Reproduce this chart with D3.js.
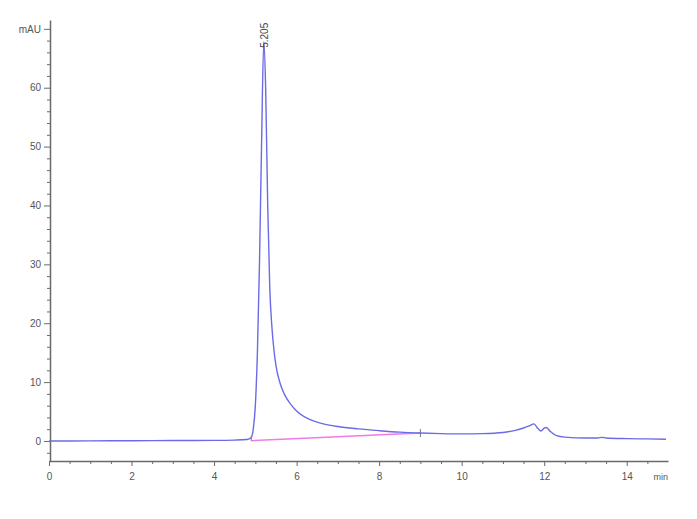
<!DOCTYPE html>
<html>
<head>
<meta charset="utf-8">
<script src="https://cdn.jsdelivr.net/npm/d3@7"></script>
<style>
  body { margin: 0; background: #fff; }
  svg text { font-family: "Liberation Sans", Arial, sans-serif; }
</style>
</head>
<body>
<div id="chart"></div>
<script>
// Chromatogram data: retention time (min) and signal (mAU)
var times = [0, 1, 2, 3, 4, 4.5, 4.8, 4.9, 4.95, 5.0, 5.05, 5.1, 5.15, 5.205, 5.25, 5.3, 5.35, 5.4, 5.45, 5.5,
  5.6, 5.7, 5.85, 6.0, 6.3, 6.6, 7.0, 7.5, 8.0, 8.5, 9.0, 9.5, 10.0, 10.5, 11.0, 11.3, 11.5, 11.65, 11.75,
  11.85, 11.92, 12.0, 12.05, 12.15, 12.3, 12.5, 13.0, 13.3, 13.4, 13.5, 14.0, 14.5, 14.95]
var signal = [0, 0.02, 0.05, 0.08, 0.1, 0.15, 0.25, 0.6, 2, 6, 15, 30, 50, 67.8, 60, 40, 26, 19.5, 15.5, 12.8,
  9.8, 8.0, 6.3, 5.1, 3.7, 3.0, 2.45, 2.05, 1.75, 1.5, 1.35, 1.25, 1.2, 1.25, 1.45, 1.8, 2.2, 2.6, 2.9,
  2.1, 1.7, 2.2, 2.3, 1.6, 0.9, 0.65, 0.5, 0.5, 0.62, 0.5, 0.4, 0.35, 0.3]

// Integration baseline of the main peak
var baseTimes = [4.9, 9.0]
var baseValues = [0.05, 1.35]

// Peak annotation
var peakTime = 5.205
var peakValue = 67.8
var peakLabel = "5.205"

// Tick values
var xMajor = [0, 2, 4, 6, 8, 10, 12, 14]
var yMajor = [0, 10, 20, 30, 40, 50, 60]
var xUnit = "min"
var yUnit = "mAU"

var width = 697
var height = 519

var svg = d3.select("#chart")
  .append("svg")
  .attr("width", width)
  .attr("height", height)

var x = d3.scaleLinear().domain([0, 15]).range([49, 668])
var y = d3.scaleLinear().domain([-3.4, 71.5]).range([461, 20])

var axisColor = "#6a6a6a"
var textColor = "#555"

// minor ticks
var xMinor = d3.range(0, 15, 0.5).filter(function(d) { return d % 2 !== 0 })
var yMinor = d3.range(-2, 71, 2).filter(function(d) { return d % 10 !== 0 && d !== 70 })

var xAxisG = svg.append("g").attr("transform", "translate(0," + y.range()[0] + ")")
xAxisG.call(d3.axisBottom(x).tickValues(xMajor).tickSize(5).tickSizeOuter(0).tickFormat(d3.format("d")))
xAxisG.append("g").call(d3.axisBottom(x).tickValues(xMinor).tickSize(3).tickFormat(""))
  .select(".domain").remove()

var yAxisG = svg.append("g").attr("transform", "translate(" + (x.range()[0] + 1) + ",0)")
yAxisG.call(d3.axisLeft(y).tickValues(yMajor).tickSize(6).tickSizeOuter(0).tickFormat(d3.format("d")))
yAxisG.append("g").call(d3.axisLeft(y).tickValues(yMinor).tickSize(3).tickFormat(""))
  .select(".domain").remove()
// unit tick on top of y axis
yAxisG.append("g").call(d3.axisLeft(y).tickValues([70]).tickSize(6).tickFormat(function() { return yUnit }))
  .select(".domain").remove()

svg.selectAll(".domain").attr("stroke", axisColor).attr("stroke-width", 1.5)
svg.selectAll(".tick line").attr("stroke", axisColor)
svg.selectAll(".tick text").attr("fill", textColor).style("font-size", "10px")
xAxisG.selectAll(".tick text").attr("dy", "1.1em")

// x unit label
svg.append("text")
  .attr("x", 668)
  .attr("y", y.range()[0] + 19)
  .attr("text-anchor", "end")
  .attr("fill", textColor)
  .style("font-size", "9px")
  .text(xUnit)

// baseline
svg.append("line")
  .attr("x1", x(baseTimes[0])).attr("y1", y(baseValues[0]))
  .attr("x2", x(baseTimes[1])).attr("y2", y(baseValues[1]))
  .attr("stroke", "#f27ae6")
  .attr("stroke-width", 1.5)

baseTimes.forEach(function(t, i) {
  svg.append("line")
    .attr("x1", x(t)).attr("x2", x(t))
    .attr("y1", y(baseValues[i]) - 4).attr("y2", y(baseValues[i]) + (i === 0 ? 0 : 4))
    .attr("stroke", "#555")
    .attr("stroke-width", 0.8)
})

// signal trace
var data = times.map(function(t, i) { return [t, signal[i]] })
var line = d3.line()
  .x(function(d) { return x(d[0]) })
  .y(function(d) { return y(d[1]) })
  .curve(d3.curveMonotoneX)

svg.append("path")
  .datum(data)
  .attr("d", line)
  .attr("fill", "none")
  .attr("stroke", "#6b6be6")
  .attr("stroke-width", 1.4)

// peak label
svg.append("text")
  .attr("transform", "translate(" + (x(peakTime) + 4) + "," + (y(peakValue) + 6) + ") rotate(-90)")
  .attr("fill", "#444")
  .style("font-size", "10px")
  .text(peakLabel)
</script>
</body>
</html>
